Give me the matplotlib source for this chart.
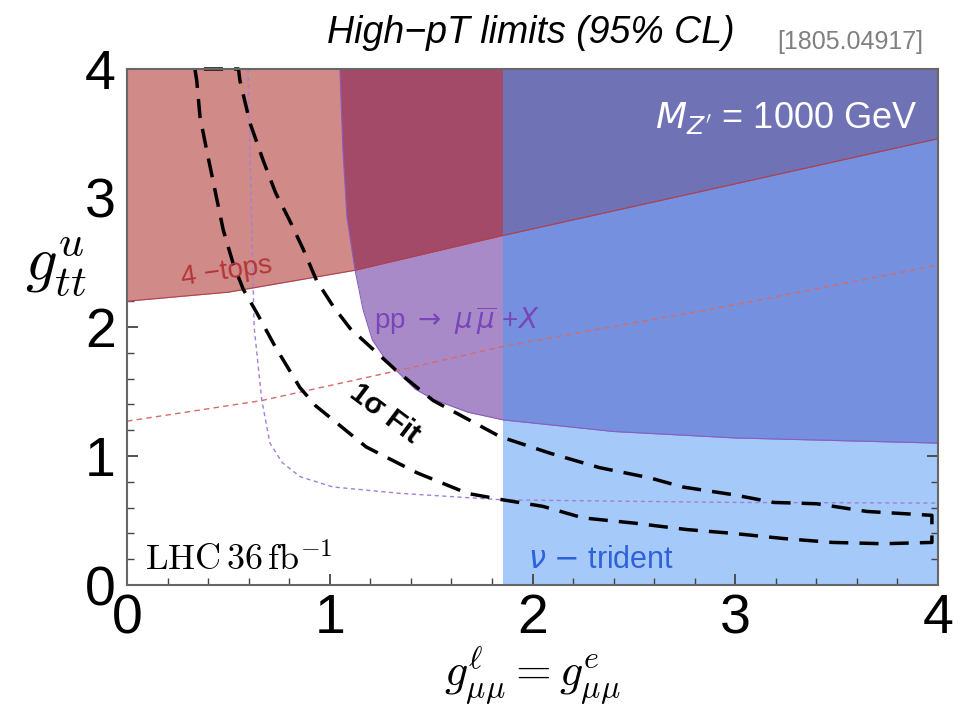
import matplotlib
matplotlib.use("Agg")
import matplotlib.pyplot as plt
from matplotlib.patches import Rectangle, Polygon
from matplotlib.ticker import MultipleLocator, AutoMinorLocator

# ---------------- data ----------------
fourtops_x = [0.0, 0.5, 1.125, 1.855, 3.0, 4.0]
fourtops_y = [2.20, 2.27, 2.44, 2.71, 3.11, 3.46]

fourtops_exp_x = [0.0, 0.665, 1.33, 1.855, 2.99, 4.0]
fourtops_exp_y = [1.27, 1.43, 1.66, 1.85, 2.17, 2.48]

pp_obs_x = [1.05, 1.065, 1.085, 1.125, 1.165, 1.21, 1.27, 1.33, 1.42, 1.51, 1.68, 1.855, 2.4, 3.0, 4.0]
pp_obs_y = [4.0, 3.37, 2.85, 2.44, 2.13, 1.90, 1.76, 1.66, 1.52, 1.44, 1.34, 1.28, 1.19, 1.14, 1.10]

pp_exp_x = [0.597, 0.627, 0.665, 0.705, 0.765, 0.853, 1.016, 1.35, 1.855, 3.0, 4.0]
pp_exp_y = [4.0, 2.0, 1.43, 1.10, 0.95, 0.84, 0.76, 0.71, 0.66, 0.64, 0.635]

trident_xmin = 1.855

fit_inner_x = [0.335, 0.344, 0.36, 0.393, 0.434, 0.475, 0.524, 0.574, 0.64, 0.73, 0.853,
               0.93, 1.016, 1.18, 1.43, 1.68, 1.855, 2.05, 2.25, 2.5, 2.76, 2.99, 3.24,
               3.48, 3.73, 3.97]
fit_inner_y = [4.0, 3.91, 3.63, 3.37, 3.06, 2.75, 2.49, 2.29, 2.11, 1.85, 1.53,
               1.39, 1.28, 1.07, 0.87, 0.71, 0.66, 0.61, 0.52, 0.48, 0.43, 0.40, 0.36,
               0.33, 0.32, 0.33]
fit_outer_x = [0.55, 0.557, 0.607, 0.672, 0.733, 0.804, 0.87, 0.935, 1.017, 1.10, 1.33,
               1.51, 1.84, 2.09, 2.33, 2.58, 2.74, 2.99, 3.19, 3.40, 3.65, 3.97]
fit_outer_y = [4.0, 3.91, 3.58, 3.29, 3.04, 2.82, 2.60, 2.36, 2.16, 1.99, 1.66,
               1.43, 1.15, 1.02, 0.91, 0.83, 0.76, 0.70, 0.64, 0.63, 0.57, 0.54]

xlim = (0, 4)
ylim = (0, 4)
tick_vals = [0, 1, 2, 3, 4]

# ---------------- colours ----------------
C_4T = "#d08a88"
C_4T_PP = "#a34a68"
C_4T_PP_TRI = "#6f72b5"
C_PP = "#a98ac8"
C_PP_TRI = "#7590de"
C_TRI = "#a5cafa"

fig = plt.figure(figsize=(9.64, 7.06), dpi=100)
ax = fig.add_axes([127/964, 1-585/706, 811/964, 516/706])
ax.set_xlim(*xlim)
ax.set_ylim(*ylim)

tri_w = xlim[1] - trident_xmin
# trident band
ax.fill_betweenx(list(ylim), trident_xmin, xlim[1], color=C_TRI, lw=0, zorder=1)
# pp region
ax.fill_between(pp_obs_x, pp_obs_y, ylim[1], color=C_PP, lw=0, zorder=2)
c = ax.fill_between(pp_obs_x, pp_obs_y, ylim[1], color=C_PP_TRI, lw=0, zorder=3)
c.set_clip_path(Rectangle((trident_xmin, ylim[0]), tri_w, ylim[1]-ylim[0], transform=ax.transData))
# 4-tops region
ax.fill_between(fourtops_x, fourtops_y, ylim[1], color=C_4T, lw=0, zorder=4)
c = ax.fill_between(fourtops_x, fourtops_y, ylim[1], color=C_4T_PP, lw=0, zorder=5)
c.set_clip_path(Polygon(list(zip(pp_obs_x, pp_obs_y)) + [(xlim[1], ylim[1])], closed=True,
                        transform=ax.transData))
c = ax.fill_between(fourtops_x, fourtops_y, ylim[1], color=C_4T_PP_TRI, lw=0, zorder=6)
c.set_clip_path(Rectangle((trident_xmin, ylim[0]), tri_w, ylim[1]-ylim[0], transform=ax.transData))

# boundary lines
ax.plot(fourtops_x, fourtops_y, color="#b04050", lw=0.8, zorder=7)
ax.plot(pp_obs_x, pp_obs_y, color="#8a5cc0", lw=0.8, zorder=7)

# expected (thin dashed)
ax.plot(fourtops_exp_x, fourtops_exp_y, color="#d66a6a", lw=1.0, ls=(0, (4, 3)), zorder=8)
ax.plot(pp_exp_x, pp_exp_y, color="#a080d8", lw=1.0, ls=(0, (3, 2.5)), zorder=8)

# 1 sigma fit contour
cx = fit_inner_x + [fit_inner_x[-1]] + fit_outer_x[::-1] + [fit_inner_x[0]]
cy = fit_inner_y + [fit_outer_y[-1]] + fit_outer_y[::-1] + [fit_inner_y[0]]
ax.plot(cx, cy, color="black", lw=2.5, ls=(0, (5.5, 3.2)), dash_capstyle="butt",
        solid_joinstyle="round", zorder=9, clip_on=False)

# ---------------- axes styling ----------------
for s in ax.spines.values():
    s.set_color("#666666")
    s.set_linewidth(1.5)
    s.set_zorder(20)
ax.xaxis.set_major_locator(MultipleLocator(1))
ax.yaxis.set_major_locator(MultipleLocator(1))
ax.xaxis.set_minor_locator(AutoMinorLocator(5))
ax.yaxis.set_minor_locator(AutoMinorLocator(5))
ax.tick_params(which="both", direction="in", top=True, right=True, color="#444444", zorder=21)
ax.tick_params(which="major", length=8, width=1.3)
ax.tick_params(which="minor", length=5, width=1.0)
ax.tick_params(axis="x", which="major", pad=6)
ax.tick_params(axis="y", which="major", pad=8)
ax.set_xticks(tick_vals)
ax.set_yticks(tick_vals)
ax.set_xticklabels([str(v) for v in tick_vals])
ax.set_yticklabels([str(v) for v in tick_vals])
for lab in ax.get_xticklabels() + ax.get_yticklabels():
    lab.set_family(["Liberation Sans", "DejaVu Sans"])
    lab.set_fontsize(40)

# ---------------- text ----------------
sans = ["Liberation Sans", "DejaVu Sans"]
fig.text(531/964, 1-33/706, "High\u2212pT limits (95% CL)", ha="center", va="center",
         fontsize=27, style="italic", family=sans)
fig.text(850/964, 1-42/706, "[1805.04917]", ha="center", va="center",
         fontsize=18, color="#808080", family=sans)
fig.text(56/964, 1-267/706, r"$g^{u}_{tt}$", ha="center", va="center", fontsize=45,
         math_fontfamily="cm")
fig.text(532/964, 1-676/706, r"$g^{\ell}_{\mu\mu} = g^{e}_{\mu\mu}$", ha="center",
         va="center", fontsize=33, math_fontfamily="cm")

ax.text(0.09, 0.19, r"$\mathrm{LHC}\,36\,\mathrm{fb}^{-1}$", fontsize=26, ha="left",
        va="center", math_fontfamily="cm", zorder=12)
ax.text(0.26, 2.43, "4 \u2212tops", color="#b3363a", fontsize=20, rotation=8,
        ha="left", va="center", family=sans, zorder=12)
ax.text(1.22, 2.05, r"pp $\rightarrow$ $\mu\,\overline{\mu}$ +$X$", color="#7a45b8",
        fontsize=20, ha="left", va="center", family=sans, math_fontfamily="dejavusans",
        zorder=12)
ax.text(1.98, 0.19, r"$\nu$ $-$ trident", color="#2f62d9", fontsize=22, ha="left",
        va="center", family=sans, math_fontfamily="dejavusans", zorder=12)
ax.text(3.90, 3.62, r"$M_{Z^{\prime}}$ = 1000 GeV", color="white", fontsize=26,
        ha="right", va="center", family=sans, math_fontfamily="dejavusans", zorder=12)
ax.text(1.27, 1.33, "1\u03c3 Fit", color="black", fontsize=21, fontweight="bold",
        rotation=-37, ha="center", va="center", family=sans, zorder=12)

fig.savefig("out.png", dpi=100)
